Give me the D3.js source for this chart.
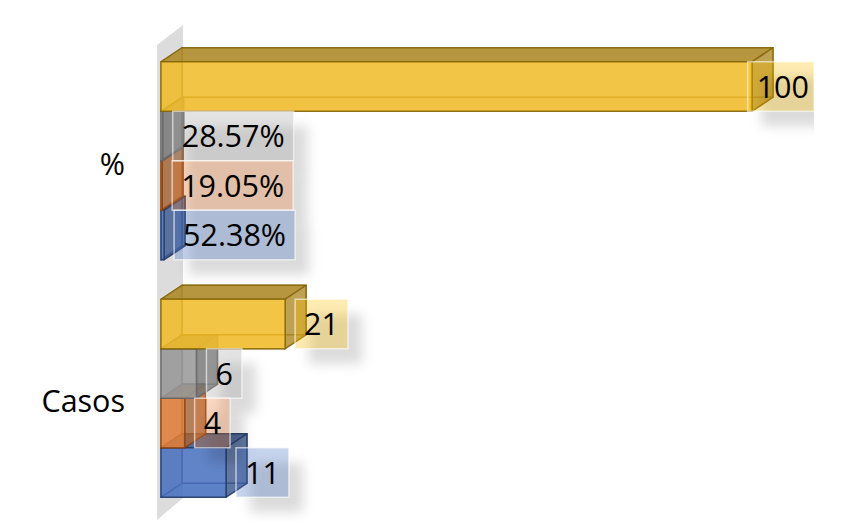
<!DOCTYPE html>
<html><head><meta charset="utf-8">
<script src="https://cdn.jsdelivr.net/npm/d3@7/dist/d3.min.js"></script>
<style>html,body{margin:0;padding:0;background:#fff;overflow:hidden}svg{display:block}text{font-family:"Open Sans","Noto Sans",sans-serif}</style>
</head><body><svg id="c" width="868" height="522"></svg>
<script>
const categories = ["%", "Casos"];
const seriesNames = ["Total", "Gris", "Naranja", "Azul"];
const seriesColors = ["#F0BC2C", "#999999", "#DF7F3A", "#4A72C0"];
const labelColors = ["#FFC000", "#A5A5A5", "#ED7D31", "#4472C4"];
const seriesDark = ["#7F6000", "#636363", "#843C0C", "#203864"];
const percentValues = [100, 0.2857, 0.1905, 0.5238];
const casosValues = [21, 6, 4, 11];
const percentLabels = ["100", "28.57%", "19.05%", "52.38%"];
const casosLabels = ["21", "6", "4", "11"];

const W = 868, H = 522, depthX = 21, depthY = -14, fontSize = 30.5, rightLimit = 814;
const svg = d3.select("#c");
const defs = svg.append("defs");
defs.append("filter").attr("id","blur").attr("x","-40%").attr("y","-40%").attr("width","180%").attr("height","180%")
  .append("feGaussianBlur").attr("stdDeviation",6);

const y0 = d3.scaleBand().domain(categories).range([42, 517]);
const y1 = d3.scaleBand().domain(seriesNames).range([-99, 99]);
const x = d3.scaleLinear().domain([0, 100]).range([161, 752]);

const rows = [];
categories.forEach((c, ci) => {
  const vals = ci === 0 ? percentValues : casosValues;
  const labs = ci === 0 ? percentLabels : casosLabels;
  seriesNames.forEach((s, si) => rows.push({c, s, si, v: vals[si], label: labs[si]}));
});
rows.forEach(d => {
  d.top = y0(d.c) + y0.bandwidth()/2 + y1(d.s);
  d.h = y1.bandwidth();
  d.x0 = x(0); d.x1 = x(d.v);
});

// side wall
const wall = [[157,45],[183,25],[183,498],[157,520]];
svg.append("polygon").attr("points", wall.join(" ")).attr("fill","#dcdcdc");

// bars: lower series first so the upper ones cover their tops
const pts = a => a.map(p => p.join(",")).join(" ");
const drawOrder = rows.slice().reverse();
const bars = svg.append("g").selectAll("g").data(drawOrder).join("g");
function face(name, f, fill, op){
  bars.append("polygon").attr("class",name).attr("points", d => pts(f(d)))
    .attr("fill", d => fill(d)).attr("fill-opacity", op)
    .attr("stroke", d => seriesDark[d.si]).attr("stroke-opacity",.7).attr("stroke-width",1.5).attr("stroke-linejoin","round");
}
const col = d => seriesColors[d.si];
const shade = d => d3.interpolateRgb(seriesColors[d.si], "#333")(0.35);
face("back", d => [[d.x0+depthX,d.top+depthY],[d.x1+depthX,d.top+depthY],[d.x1+depthX,d.top+d.h+depthY],[d.x0+depthX,d.top+d.h+depthY]], col, .15);
face("floor", d => [[d.x0,d.top+d.h],[d.x1,d.top+d.h],[d.x1+depthX,d.top+d.h+depthY],[d.x0+depthX,d.top+d.h+depthY]], col, .3);
face("left", d => [[d.x0,d.top],[d.x0+depthX,d.top+depthY],[d.x0+depthX,d.top+d.h+depthY],[d.x0,d.top+d.h]], col, .25);
face("top", d => [[d.x0,d.top],[d.x1,d.top],[d.x1+depthX,d.top+depthY],[d.x0+depthX,d.top+depthY]], shade, .9);
face("right", d => [[d.x1,d.top],[d.x1+depthX,d.top+depthY],[d.x1+depthX,d.top+d.h+depthY],[d.x1,d.top+d.h]], shade, .8);
face("front", d => [[d.x0,d.top],[d.x1,d.top],[d.x1,d.top+d.h],[d.x0,d.top+d.h]], col, .85);

// category axis
const axis = svg.append("g").attr("transform","translate(135,4)")
  .call(d3.axisLeft(y0).tickSize(0).tickPadding(10));
axis.select(".domain").remove();
axis.selectAll("text").attr("font-size",fontSize).attr("fill","#000").style("font-family",'"Open Sans","Noto Sans",sans-serif');

// data labels
const labels = svg.append("g");
const tmp = svg.append("text").attr("font-size",fontSize);
rows.forEach(d => {
  tmp.text(d.label);
  d.tw = tmp.node().getComputedTextLength();
  d.bw = d.tw + 18;
  d.bx = Math.min(d.x1 + 10, rightLimit - d.bw + 4);
  d.bwClip = Math.min(d.bw, rightLimit - d.bx);
});
tmp.remove();
labels.selectAll("rect.sh").data(rows).join("rect").attr("class","sh")
  .attr("x",d=>d.bx+14).attr("y",d=>d.top+15).attr("width",d=>d.bwClip).attr("height",d=>d.h)
  .attr("fill","#000").attr("fill-opacity",.14).attr("filter","url(#blur)");
labels.append("rect").attr("x",rightLimit).attr("y",0).attr("width",W-rightLimit).attr("height",H).attr("fill","#fff");
labels.selectAll("rect.box").data(rows).join("rect").attr("class","box")
  .attr("x",d=>d.bx).attr("y",d=>d.top).attr("width",d=>d.bwClip).attr("height",d=>d.h)
  .attr("fill",d=>labelColors[d.si]).attr("fill-opacity",.3)
  .attr("stroke","#fff").attr("stroke-opacity",.6).attr("stroke-width",1.5);
labels.selectAll("text").data(rows).join("text")
  .attr("x",d=>d.bx+9).attr("y",d=>d.top+d.h/2+11).attr("font-size",fontSize).attr("fill","#000").text(d=>d.label);
</script></body></html>
